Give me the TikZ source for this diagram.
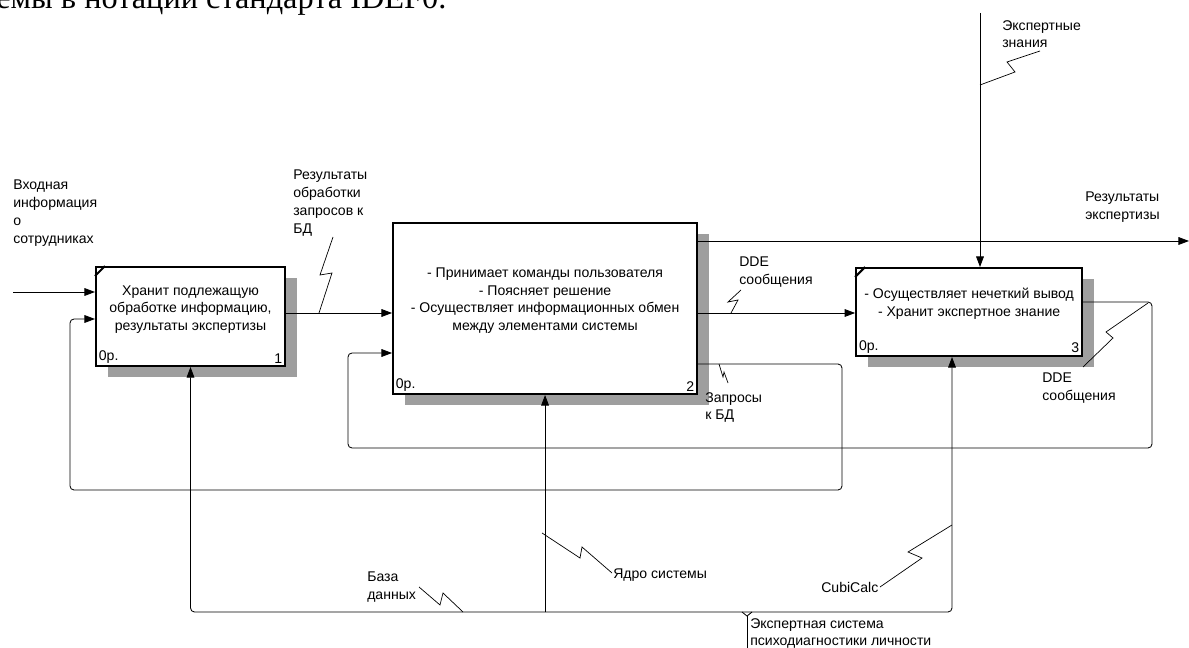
\documentclass[tikz,border=0pt]{standalone}
\usepackage{fontspec}
\setmainfont{Liberation Sans}
\newfontfamily\capfont{Liberation Serif}
\usetikzlibrary{arrows.meta,positioning,shadows,patterns}

\tikzset{
        func/.style = {draw, rectangle, line width=1.4pt, fill=white,
            drop shadow={shadow xshift=0.3cm, shadow yshift=-0.275cm,
                opacity=1, fill=black!38}},
        flow/.style = {draw, -{Triangle[length=7.5pt,width=5.5pt]}, line width=0.6pt},
        loopflow/.style = {flow, rounded corners=0.1cm},
        lbl/.style = {align=left, inner sep=0, anchor=north west},
        boxtext/.style = {align=center, inner sep=0},
        corner/.style = {inner sep=0.09cm},
        zig/.style = {line width=0.5pt},
        tick/.style = {line width=1.4pt},
    }

\begin{document}
\begin{tikzpicture}[x=0.025cm, y=-0.025cm, font=\fontsize{10}{12.6}\selectfont]
\useasboundingbox (0,0) rectangle (1189,648);
\clip (0,0) rectangle (1189,648);

% caption line, cut by the page edge
\node[anchor=base west, inner sep=0, font=\capfont\fontsize{23}{26}\selectfont] (caption) at (-4,9) {емы в нотации стандарта IDEF0.};

% function blocks
\node[func, minimum width=4.725cm, minimum height=2.475cm] (box1) at (190.5,316.5) {};
\node[func, minimum width=7.6cm, minimum height=4.275cm, right=2.65cm of box1, yshift=0.2cm] (box2) {};
\node[func, minimum width=5.65cm, minimum height=2.2cm, right=3.925cm of box2, yshift=-0.0875cm] (box3) {};

\node[boxtext] (txt1) at ([yshift=0.175cm]box1.center) {Хранит подлежащую\\обработке информацию,\\результаты экспертизы};
\node[boxtext] (txt2) at ([yshift=0.2cm]box2.center) {- Принимает команды пользователя\\- Поясняет решение\\- Осуществляет информационных обмен\\между элементами системы};
\node[boxtext] (txt3) at ([yshift=0.2125cm]box3.center) {- Осуществляет нечеткий вывод\\- Хранит экспертное знание};

\node[corner, anchor=south west] (cost1) at (box1.south west) {0р.};
\node[corner, anchor=south east] (num1) at (box1.south east) {1};
\node[corner, anchor=south west] (cost2) at (box2.south west) {0р.};
\node[corner, anchor=south east] (num2) at (box2.south east) {2};
\node[corner, anchor=south west] (cost3) at (box3.south west) {0р.};
\node[corner, anchor=south east] (num3) at (box3.south east) {3};

\draw[tick] ([yshift=-0.25cm]box1.north west) -- ([xshift=0.25cm]box1.north west);
\draw[tick] ([yshift=-0.25cm]box3.north west) -- ([xshift=0.25cm]box3.north west);

% inputs and outputs
\coordinate (in1) at (13,292);
\draw[flow] (in1) -- (in1 -| box1.west);
\draw[flow] (box1.east |- 0,313) -- (box2.west |- 0,313);
\draw[flow] (box2.east |- 0,313) -- (box3.west |- 0,313);
\coordinate (out1) at (1189,241);
\draw[flow] (box2.east |- out1) -- (out1);

% control
\coordinate (ctl) at (980,13);
\draw[flow] (ctl) -- (ctl |- box3.north);

% feedback
\draw[loopflow] (box2.east |- 0,364) -| (842,490) -| (70,319) -- (box1.west |- 0,319);
\draw[loopflow] (box3.east |- 0,302) -| (1152,448) -| (348,353) -- (box2.west |- 0,353);

% mechanisms
\coordinate (bus) at (952,612);
\draw[loopflow] (box2.south |- bus) -| (box1.south);
\draw[loopflow] (box2.south |- bus) -- (bus) -- (bus |- box3.south);
\draw[flow] (box2.south |- bus) -- (box2.south);
\coordinate (split) at (747,612);
\draw[line width=0.6pt] (742,612) -- (747,616) -- (752,612);
\draw[line width=0.6pt] (747,616) -- (747,648);

% squiggles
\draw[zig] (333,237) -- (320,275) -- (332,273) -- (319,313);
\draw[zig] (741,290) -- (728,302) -- (738,300) -- (731,313);
\draw[zig] (719,364) -- (723,377) -- (724,372) -- (728,383);
\draw[zig] (1040,51) -- (1007,62) -- (1015,72) -- (980,85);
\draw[zig] (1083,367) -- (1113,338) -- (1106,332) -- (1148,303);
\draw[zig] (419,587) -- (440,605) -- (443,593) -- (463,612);
\draw[zig] (542,533) -- (580,558) -- (582,547) -- (612,573);
\draw[zig] (880,587) -- (922,558) -- (908,552) -- (952,525);

% arrow labels
\node[lbl] (inlbl) at (13,180) {Входная\\информация\\о\\сотрудниках};
\node[lbl] (reslbl) at (293,170) {Результаты\\обработки\\запросов к\\БД};
\node[lbl] (ddelbl) at (739,257) {DDE\\сообщения};
\node[lbl] (reqlbl) at (705,392) {Запросы\\к БД};
\node[lbl] (explbl) at (1002,20) {Экспертные\\знания};
\node[lbl] (outlbl) at (1085,192) {Результаты\\экспертизы};
\node[lbl] (dde2lbl) at (1042,373) {DDE\\сообщения};
\node[lbl] (dblbl) at (367,572) {База\\данных};
\node[lbl, anchor=west] (corelbl) at (613,575) {Ядро системы};
\node[lbl, anchor=west] (cubilbl) at (821,587) {CubiCalc};
\node[lbl] (mechlbl) at (750,618) {Экспертная система\\психодиагностики личности};
\end{tikzpicture}
\end{document}
